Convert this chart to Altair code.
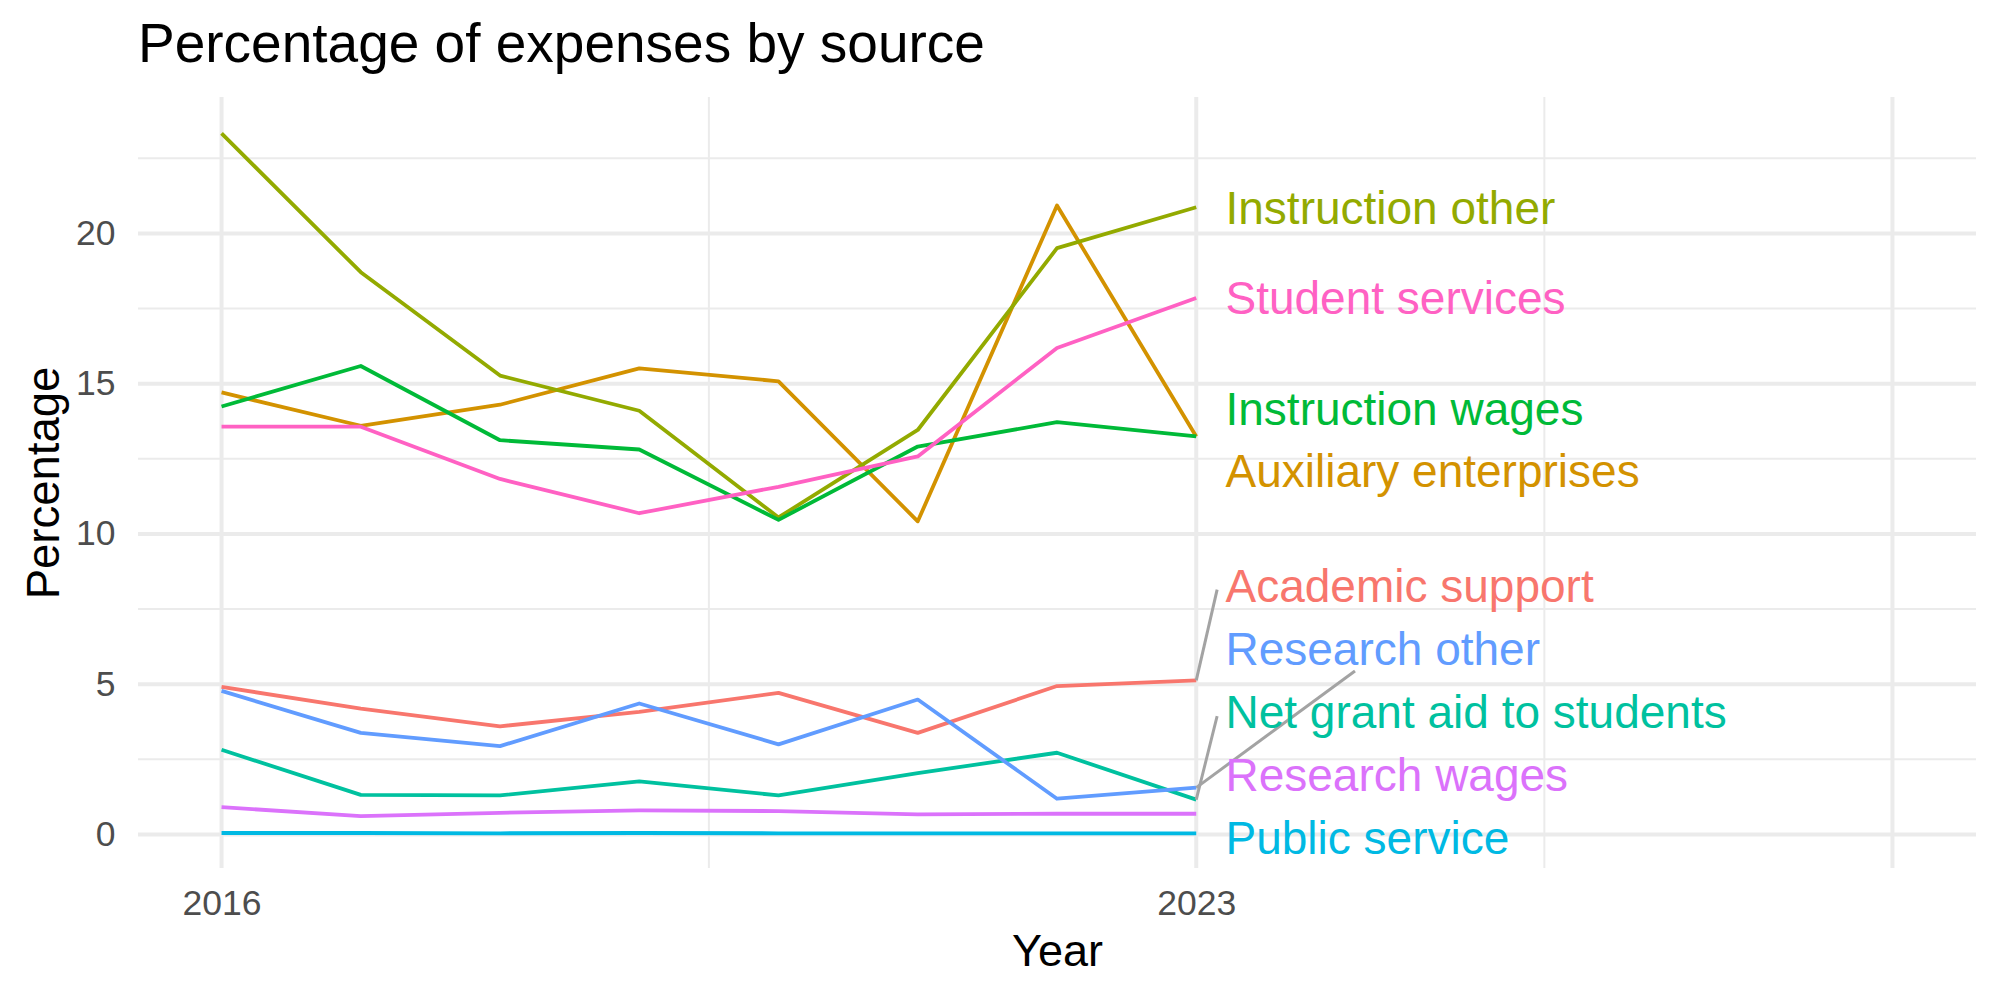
import altair as alt
import pandas as pd

# ---------------- data ----------------
years = [2016, 2017, 2018, 2019, 2020, 2021, 2022, 2023]

series_names = [
    "Academic support", "Auxiliary enterprises", "Instruction other",
    "Instruction wages", "Net grant aid to students", "Public service",
    "Research other", "Research wages", "Student services",
]
academic_support = [4.91, 4.19, 3.60, 4.08, 4.71, 3.38, 4.94, 5.13]
auxiliary_enterprises = [14.71, 13.60, 14.30, 15.51, 15.08, 10.42, 20.93, 13.24]
instruction_other = [23.33, 18.71, 15.27, 14.10, 10.55, 13.46, 19.51, 20.87]
instruction_wages = [14.24, 15.59, 13.12, 12.81, 10.47, 12.91, 13.72, 13.25]
net_grant_aid = [2.82, 1.32, 1.30, 1.77, 1.30, 2.04, 2.72, 1.16]
public_service = [0.05, 0.05, 0.04, 0.05, 0.04, 0.04, 0.04, 0.04]
research_other = [4.78, 3.38, 2.94, 4.36, 3.00, 4.49, 1.19, 1.56]
research_wages = [0.91, 0.61, 0.72, 0.80, 0.78, 0.67, 0.69, 0.69]
student_services = [13.57, 13.57, 11.83, 10.69, 11.57, 12.58, 16.19, 17.85]

series_values = [
    academic_support, auxiliary_enterprises, instruction_other,
    instruction_wages, net_grant_aid, public_service,
    research_other, research_wages, student_services,
]

colors = ["#F8766D", "#D39200", "#93AA00", "#00BA38", "#00C19F",
          "#00B9E3", "#619CFF", "#DB72FB", "#FF61C3"]

# repelled label positions (data units)
label_year = 2023.21
label_value = [8.29, 12.12, 20.87, 14.20, 4.11, -0.08, 6.22, 2.01, 17.87]

# leader segments (data units)
seg_names = ["Academic support", "Research other", "Net grant aid to students"]
seg_year = [2023, 2023, 2023]
seg_value = [5.13, 1.56, 1.16]
seg_year2 = [2023.15, 2024.14, 2023.15]
seg_value2 = [8.15, 5.44, 3.94]

# axis breaks
x_labels = [2016, 2023]
x_major = [2016, 2023, 2028]
x_minor = [2019.5, 2025.5]
y_major = [0, 5, 10, 15, 20]
y_minor = [2.5, 7.5, 12.5, 17.5, 22.5]

x_domain = [2015.4, 2028.6]
y_domain = [-1.115, 24.54]

# ---------------- tables ----------------
rows = []
for name, vals in zip(series_names, series_values):
    for yr, v in zip(years, vals):
        rows.append({"year": yr, "value": v, "source": name})
lines_df = pd.DataFrame(rows)

labels_df = pd.DataFrame({"source": series_names, "year": [label_year] * len(series_names),
                          "value": label_value})
segs_df = pd.DataFrame({"source": seg_names, "year": seg_year, "value": seg_value,
                        "year2": seg_year2, "value2": seg_value2})

xgrid_df = pd.DataFrame({"year": x_major + x_minor,
                         "w": [4] * len(x_major) + [2] * len(x_minor)})
ygrid_df = pd.DataFrame({"value": y_major + y_minor,
                         "w": [4] * len(y_major) + [2] * len(y_minor)})

FONT = "Liberation Sans"
color_scale = alt.Scale(domain=series_names, range=colors)
xs = alt.Scale(domain=x_domain, nice=False, zero=False)
ys = alt.Scale(domain=y_domain, nice=False, zero=False)

x_axis = alt.Axis(
    values=x_labels, format="d", title="Year",
    titleFontSize=45, titleColor="black", titleFont=FONT, titleFontWeight="normal",
    titleBaseline="alphabetic", titleY=97,
    labelFont=FONT, labelFontSize=35.5, labelColor="#4D4D4D",
    labelBaseline="alphabetic", labelPadding=46, labelFlush=False,
    domain=False, ticks=False, grid=False,
)
y_axis = alt.Axis(
    values=y_major, format="d", title="Percentage",
    titleFontSize=45.5, titleColor="black", titleFont=FONT, titleFontWeight="normal",
    titleAngle=270, titleBaseline="alphabetic", titleAlign="center",
    titleX=-80, titleY=385.5,
    labelFont=FONT, labelFontSize=35.5, labelColor="#4D4D4D",
    labelPadding=23, labelFlush=False,
    domain=False, ticks=False, grid=False,
)

X = lambda f: alt.X(f, scale=xs, axis=x_axis)
Y = lambda f: alt.Y(f, scale=ys, axis=y_axis)

xgrid = alt.Chart(xgrid_df).mark_rule(color="#EBEBEB").encode(
    x=X("year:Q"),
    strokeWidth=alt.StrokeWidth("w:Q", scale=None),
)
ygrid = alt.Chart(ygrid_df).mark_rule(color="#EBEBEB").encode(
    y=Y("value:Q"),
    strokeWidth=alt.StrokeWidth("w:Q", scale=None),
)

lines = alt.Chart(lines_df).mark_line(strokeWidth=3.8, strokeCap="butt", strokeJoin="round").encode(
    x=X("year:Q"),
    y=Y("value:Q"),
    color=alt.Color("source:N", scale=color_scale, legend=None),
    detail="source:N",
)

segs = alt.Chart(segs_df).mark_rule(color="#A3A3A3", strokeWidth=3).encode(
    x=X("year:Q"),
    y=Y("value:Q"),
    x2="year2:Q",
    y2="value2:Q",
)

texts = alt.Chart(labels_df).mark_text(
    align="left", baseline="middle", dy=3, fontSize=46, font=FONT
).encode(
    x=X("year:Q"),
    y=Y("value:Q"),
    text="source:N",
    color=alt.Color("source:N", scale=color_scale, legend=None),
)

chart = alt.layer(xgrid, ygrid, lines, segs, texts).properties(
    width=1838, height=771,
    padding={"left": 138, "top": 97, "right": 24, "bottom": 132},
    autosize=alt.AutoSizeParams(type="none"),
    title=alt.Title("Percentage of expenses by source", anchor="start", frame="group",
                    fontSize=55, font=FONT, fontWeight="normal", color="black",
                    baseline="alphabetic", offset=-22),
    background="white",
).configure_view(stroke=None)

chart.save("out.html", embed_options={"renderer": "svg", "actions": False})
